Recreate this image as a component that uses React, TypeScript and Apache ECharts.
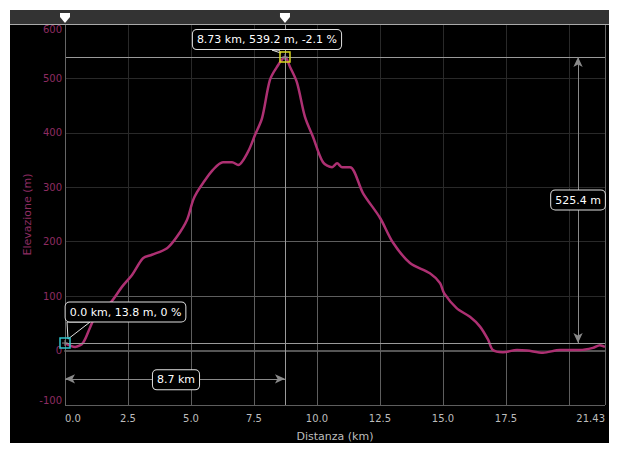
import React, { useEffect, useRef } from "react";
import * as echarts from "echarts";

const distanceKm = [0, 0.4, 0.71, 1.0, 1.27, 1.79, 2.26, 2.66, 3.1, 3.45, 4.05, 4.44, 4.84, 5.08, 5.24, 5.48, 5.87, 6.27, 6.63, 6.87, 7.26, 7.54, 7.82, 8.13, 8.41, 8.73, 8.93, 9.21, 9.52, 9.84, 10.24, 10.6, 10.8, 10.99, 11.31, 11.83, 12.5, 13.02, 13.69, 14.48, 14.88, 15.05, 15.54, 16.07, 16.47, 16.79, 16.98, 17.38, 17.94, 18.33, 18.97, 19.64, 20.44, 20.95, 21.23, 21.43];
const elevationM = [13.8, 6.6, 14, 43, 69, 87, 117, 139, 170, 176, 188, 209, 240, 276, 291, 308, 332, 346, 346, 341, 365, 396, 427, 497, 521, 539.2, 521, 492, 430, 393, 346, 337, 344, 337, 337, 289, 244, 198, 161, 142, 124, 105, 78, 62, 44, 20, 1, -3, 1, 0, -4, 1, 1, 5, 10, 7];

const xMin = 0;
const xMax = 21.43;
const xInterval = 2.5;
const yMin = -100;
const yMax = 600;
const yInterval = 100;

const peakPoint = { km: 8.73, m: 539.2, grade: -2.1 };
const startPoint = { km: 0.0, m: 13.8, grade: 0 };
const distanceLabel = "8.7 km";
const climbLabel = "525.4 m";
const distanceMeasureM = -52;
const climbMeasureKm = 20.36;

const xName = "Distanza (km)";
const yName = "Elevazione (m)";

const FONT = "DejaVu Sans";
const LINE_COLOR = "#ad3072";
const Y_LABEL_COLOR = "#8e2c62";
const X_LABEL_COLOR = "#bdbdbd";
const GRID_COLOR = "#5e5e5e";

export default function App() {
  const ref = useRef<HTMLDivElement>(null);

  useEffect(() => {
    if (!ref.current) return;
    const chart = echarts.init(ref.current, null, { renderer: "svg", width: 599, height: 433 });
    const data = distanceKm.map((d, i) => [d, elevationM[i]]);

    chart.setOption({
      animation: false,
      backgroundColor: "#000",
      grid: { left: 55, right: 4, top: 14, bottom: 38, containLabel: false, outerBoundsMode: "none" },
      xAxis: {
        type: "value",
        min: xMin,
        max: xMax,
        interval: xInterval,
        name: xName,
        nameLocation: "middle",
        nameGap: 26,
        nameTextStyle: { color: X_LABEL_COLOR, fontFamily: FONT, fontSize: 11 },
        axisLine: { show: true, lineStyle: { color: "#555", width: 2 } },
        axisTick: { show: true, length: 3, lineStyle: { color: "#666" } },
        splitLine: { show: true, lineStyle: { color: GRID_COLOR, width: 1 } },
        axisLabel: {
          color: X_LABEL_COLOR,
          fontFamily: FONT,
          fontSize: 10,
          margin: 8,
          alignMinLabel: "left",
          alignMaxLabel: "right",
          formatter: (v: number) => {
            if (Math.abs(v - xMax) < 1e-6) return String(xMax);
            if (v > 19.9) return "";
            return v.toFixed(1);
          },
        },
      },
      yAxis: {
        type: "value",
        min: yMin,
        max: yMax,
        interval: yInterval,
        name: yName,
        nameLocation: "middle",
        nameGap: 32,
        nameMoveOverlap: false,
        nameTextStyle: { color: Y_LABEL_COLOR, fontFamily: FONT, fontSize: 11 },
        axisLine: { show: true, lineStyle: { color: "#666", width: 1 } },
        axisTick: { show: false },
        splitLine: { show: true, lineStyle: { color: GRID_COLOR, width: 1 } },
        axisLabel: {
          color: Y_LABEL_COLOR,
          fontFamily: FONT,
          fontSize: 10,
          margin: 3,
          verticalAlignMaxLabel: "top",
          verticalAlignMinLabel: "bottom",
        },
      },
      series: [
        {
          type: "line",
          data,
          showSymbol: false,
          symbol: "none",
          smooth: 0.3,
          z: 2,
          lineStyle: { color: LINE_COLOR, width: 2.5 },
          areaStyle: { origin: "end", color: "rgba(0,0,0,0.8)" },
          silent: true,
        },
        {
          type: "line",
          data: [],
          z: 4,
          markLine: {
            silent: true,
            symbol: ["none", "none"],
            label: { show: false },
            lineStyle: { color: "#9a9a9a", width: 1, type: "solid" },
            data: [
              { yAxis: peakPoint.m },
              { yAxis: startPoint.m },
              { xAxis: peakPoint.km },
              { xAxis: xMin, lineStyle: { color: "#666", width: 1, type: "solid" } },
              { xAxis: xMax, lineStyle: { color: "#666", width: 1, type: "solid" } },
            ],
          },
        },
        {
          type: "line",
          data: [],
          z: 5,
          markLine: {
            silent: true,
            symbol: ["arrow", "arrow"],
            symbolSize: [7, 10],
            label: { show: false },
            lineStyle: { color: "#8a8a8a", width: 1, type: "solid" },
            itemStyle: { color: "#8a8a8a" },
            data: [
              [{ coord: [startPoint.km, distanceMeasureM] }, { coord: [peakPoint.km, distanceMeasureM] }],
              [{ coord: [climbMeasureKm, startPoint.m] }, { coord: [climbMeasureKm, peakPoint.m] }],
            ],
          },
        },
      ],
    });

    const px = (x: number, y: number) => chart.convertToPixel({ gridIndex: 0 }, [x, y]) as number[];
    const [pkX, pkY] = px(peakPoint.km, peakPoint.m);
    const [stX, stY] = px(startPoint.km, startPoint.m);
    const [dmX1, dmY] = px(startPoint.km, distanceMeasureM);
    const [dmX2] = px(peakPoint.km, distanceMeasureM);
    const [cmX, cmY1] = px(climbMeasureKm, startPoint.m);
    const [, cmY2] = px(climbMeasureKm, peakPoint.m);

    const boxStyle = {
      fill: "#fff",
      font: `11px "${FONT}"`,
      backgroundColor: "#000",
      borderColor: "#e0e0e0",
      borderWidth: 1,
      borderRadius: 4,
      padding: [4, 4, 4, 4],
      align: "center",
      verticalAlign: "middle",
    };

    const pin = (x: number) => ({
      type: "polygon",
      z: 100,
      silent: true,
      shape: { points: [[x - 5, 3], [x + 5, 3], [x + 5, 7], [x, 13], [x - 5, 7]] },
      style: { fill: "#fff" },
    });

    const squareMarker = (x: number, y: number, color: string) => [
      {
        type: "rect",
        z: 101,
        silent: true,
        shape: { x: x - 5, y: y - 5, width: 10, height: 10 },
        style: { fill: "rgba(0,0,0,0)", stroke: color, lineWidth: 1.5 },
      },
      {
        type: "line",
        z: 101,
        silent: true,
        shape: { x1: x - 3, y1: y, x2: x + 3, y2: y },
        style: { stroke: "#888", lineWidth: 1 },
      },
      {
        type: "line",
        z: 101,
        silent: true,
        shape: { x1: x, y1: y - 3, x2: x, y2: y + 3 },
        style: { stroke: "#888", lineWidth: 1 },
      },
    ];

    const peakBoxBottom = pkY - 7;
    const startBoxBottom = stY - 21;

    chart.setOption({
      graphic: [
        { type: "rect", z: 90, silent: true, shape: { x: 0, y: 0, width: 599, height: 14 }, style: { fill: "#333" } },
        { type: "line", z: 91, silent: true, shape: { x1: 0, y1: 14.5, x2: 599, y2: 14.5 }, style: { stroke: "#aaa", lineWidth: 1 } },
        pin(stX),
        pin(pkX),
        {
          type: "polygon",
          z: 100,
          silent: true,
          shape: { points: [[pkX - 13, peakBoxBottom], [pkX - 4, pkY - 4], [pkX - 6, peakBoxBottom]] },
          style: { fill: "#000", stroke: "#e0e0e0", lineWidth: 1 },
        },
        {
          type: "text",
          z: 102,
          silent: true,
          style: { ...boxStyle, text: `${peakPoint.km.toFixed(2)} km, ${peakPoint.m.toFixed(1)} m, ${peakPoint.grade} %`, x: pkX - 18, y: peakBoxBottom - 10.5 },
        },
        {
          type: "polygon",
          z: 100,
          silent: true,
          shape: { points: [[stX + 2, startBoxBottom], [stX + 3, stY - 4], [stX + 25, startBoxBottom]] },
          style: { fill: "#000", stroke: "#e0e0e0", lineWidth: 1 },
        },
        {
          type: "text",
          z: 102,
          silent: true,
          style: { ...boxStyle, text: `${startPoint.km.toFixed(1)} km, ${startPoint.m.toFixed(1)} m, ${startPoint.grade} %`, x: stX + 60.5, y: startBoxBottom - 10 },
        },
        ...squareMarker(pkX, pkY, "#d6d61e"),
        ...squareMarker(stX, stY, "#2fc4cc"),
        {
          type: "text",
          z: 102,
          silent: true,
          style: { ...boxStyle, text: distanceLabel, x: (dmX1 + dmX2) / 2 + 1, y: dmY + 1 },
        },
        {
          type: "text",
          z: 102,
          silent: true,
          style: { ...boxStyle, text: climbLabel, x: cmX, y: (cmY1 + cmY2) / 2 },
        },
      ],
    });

    return () => chart.dispose();
  }, []);

  return (
    <div style={{ position: "fixed", left: 0, top: 0, width: 619, height: 455, background: "#fff" }}>
      <div ref={ref} style={{ position: "absolute", left: 10, top: 10, width: 599, height: 433 }} />
    </div>
  );
}
